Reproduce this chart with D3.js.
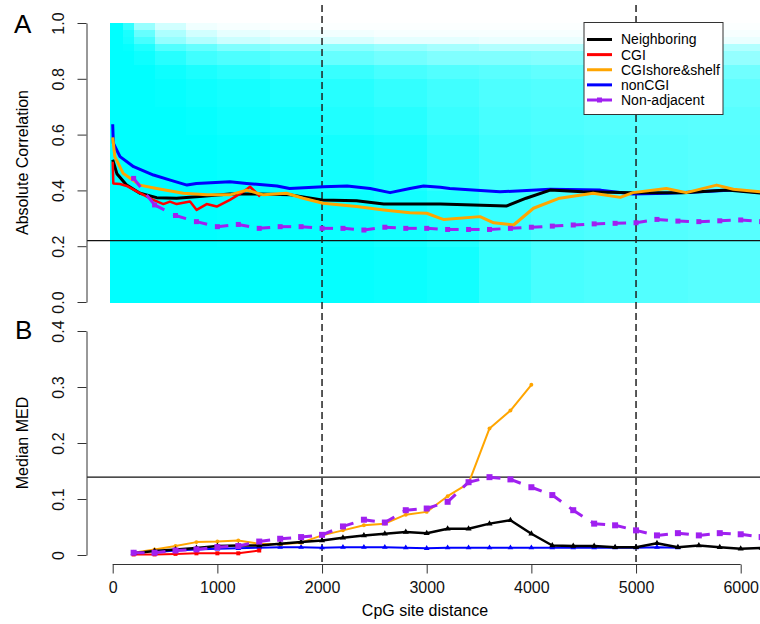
<!DOCTYPE html>
<html>
<head>
<meta charset="utf-8">
<script src="https://cdn.jsdelivr.net/npm/d3@7"></script>
<style>
  body { margin: 0; background: #fff; }
  svg { display: block; font-family: "Liberation Sans", Arial, sans-serif; }
</style>
</head>
<body>
<svg id="chart" width="760" height="624"></svg>
<script>
// ---- data ----

// scatter cloud of |correlation| vs distance, as coverage per cell
const cloudDist = [-25, 100, 200, 400, 700, 1000, 1500, 2000, 2500, 3000, 3500, 4000, 4500, 5000, 5500, 6300];
const cloudCorr = [0, 0.2, 0.4, 0.6, 0.7, 0.8, 0.85, 0.9, 0.925, 0.95, 0.975, 1.0];
const cloudCover = [
  [1, 1, 1, 1, 1, 1, 1, 1, 1, 1, 1],
  [1, 1, 1, 1, 1, 1, 1, 0.98, 0.92, 0.9, 0.8],
  [1, 1, 1, 1, 1, 1, 0.95, 0.88, 0.72, 0.6, 0.4],
  [1, 1, 1, 1, 0.98, 0.95, 0.85, 0.68, 0.42, 0.32, 0.18],
  [1, 1, 1, 0.98, 0.95, 0.9, 0.75, 0.6, 0.3, 0.18, 0.06],
  [1, 0.99, 0.98, 0.95, 0.92, 0.85, 0.7, 0.5, 0.2, 0.1, 0.03],
  [0.99, 0.98, 0.96, 0.93, 0.88, 0.8, 0.65, 0.45, 0.15, 0.06, 0.02],
  [0.98, 0.96, 0.93, 0.88, 0.85, 0.78, 0.6, 0.45, 0.15, 0.05, 0.01],
  [0.96, 0.93, 0.9, 0.85, 0.8, 0.72, 0.55, 0.4, 0.1, 0.03, 0.01],
  [0.93, 0.88, 0.82, 0.78, 0.75, 0.68, 0.5, 0.35, 0.1, 0.03, 0.01],
  [0.8, 0.78, 0.75, 0.72, 0.7, 0.65, 0.5, 0.3, 0.08, 0.03, 0.01],
  [0.72, 0.72, 0.72, 0.7, 0.68, 0.62, 0.48, 0.3, 0.08, 0.03, 0.01],
  [0.7, 0.7, 0.7, 0.68, 0.66, 0.6, 0.45, 0.3, 0.08, 0.03, 0.01],
  [0.68, 0.68, 0.68, 0.66, 0.64, 0.58, 0.45, 0.3, 0.08, 0.03, 0.01],
  [0.66, 0.66, 0.66, 0.65, 0.62, 0.56, 0.42, 0.3, 0.08, 0.03, 0.01],
];

// panel A: absolute correlation
const corrNeighboring = [[0, 0.51], [40, 0.46], [130, 0.42], [260, 0.39], [420, 0.374], [610, 0.372], [830, 0.378], [1120, 0.387], [1380, 0.387], [1700, 0.384], [2000, 0.366], [2330, 0.363], [2590, 0.351], [3130, 0.351], [3760, 0.344], [3950, 0.372], [4180, 0.401], [4490, 0.395], [4970, 0.392], [5450, 0.392], [5870, 0.401], [6200, 0.39]];
const corrCGI = [[0, 0.503], [6, 0.425], [70, 0.423], [134, 0.416], [261, 0.39], [388, 0.366], [484, 0.351], [547, 0.36], [611, 0.351], [739, 0.36], [802, 0.33], [898, 0.351], [994, 0.342], [1120, 0.366], [1248, 0.395], [1312, 0.413], [1376, 0.39], [1407, 0.378]];
const corrShore = [[0, 0.59], [20, 0.521], [100, 0.461], [260, 0.419], [420, 0.407], [675, 0.39], [900, 0.384], [1120, 0.384], [1280, 0.401], [1440, 0.384], [1660, 0.39], [1820, 0.372], [2010, 0.354], [2330, 0.342], [2590, 0.33], [2840, 0.32], [3000, 0.318], [3130, 0.3], [3160, 0.296], [3510, 0.306], [3640, 0.284], [3830, 0.276], [4020, 0.336], [4270, 0.372], [4590, 0.39], [4850, 0.375], [4970, 0.392], [5290, 0.407], [5480, 0.392], [5770, 0.419], [5930, 0.404], [6200, 0.395]];
const corrNonCGI = [[0, 0.637], [6, 0.569], [70, 0.521], [200, 0.485], [390, 0.455], [550, 0.437], [710, 0.419], [800, 0.425], [1120, 0.431], [1280, 0.425], [1570, 0.416], [1690, 0.407], [2010, 0.413], [2240, 0.416], [2460, 0.407], [2650, 0.392], [2840, 0.407], [2970, 0.416], [3130, 0.411], [3220, 0.407], [3700, 0.395], [4180, 0.404], [4660, 0.401], [4970, 0.387], [5300, 0.39], [5610, 0.395], [5930, 0.401], [6200, 0.392]];
const corrNonAdj = [[200, 0.443], [400, 0.348], [600, 0.31], [800, 0.288], [1000, 0.27], [1200, 0.278], [1400, 0.264], [1600, 0.27], [1800, 0.27], [2000, 0.264], [2200, 0.264], [2400, 0.258], [2600, 0.268], [2800, 0.264], [3000, 0.264], [3200, 0.26], [3400, 0.26], [3600, 0.26], [3800, 0.264], [4000, 0.268], [4200, 0.272], [4400, 0.276], [4600, 0.28], [4800, 0.282], [5000, 0.284], [5200, 0.296], [5400, 0.29], [5600, 0.288], [5800, 0.291], [6000, 0.294], [6200, 0.288]];

// panel B: median MED
const medNeighboring = [[200, 0.003], [400, 0.007], [600, 0.01], [800, 0.0125], [1000, 0.016], [1200, 0.017], [1400, 0.017], [1600, 0.02], [1800, 0.023], [2000, 0.026], [2200, 0.031], [2400, 0.035], [2600, 0.038], [2800, 0.041], [3000, 0.039], [3200, 0.047], [3400, 0.047], [3600, 0.056], [3800, 0.062], [4000, 0.038], [4200, 0.017], [4400, 0.016], [4600, 0.016], [4800, 0.014], [5000, 0.014], [5200, 0.021], [5400, 0.014], [5600, 0.017], [5800, 0.014], [6000, 0.011], [6200, 0.0125]];
const medCGI = [[200, 0.001], [400, 0.001], [600, 0.002], [800, 0.003], [1000, 0.003], [1200, 0.003], [1400, 0.008]];
const medShore = [[200, 0.004], [400, 0.01], [600, 0.016], [800, 0.023], [1000, 0.024], [1200, 0.026], [1400, 0.02], [1600, 0.019], [1800, 0.022], [2000, 0.035], [2200, 0.044], [2400, 0.053], [2600, 0.056], [2800, 0.072], [3000, 0.077], [3200, 0.105], [3400, 0.128], [3600, 0.226], [3800, 0.258], [4000, 0.304]];
const medNonCGI = [[400, 0.005], [600, 0.008], [800, 0.01], [1000, 0.011], [1200, 0.012], [1400, 0.013], [1600, 0.014], [1800, 0.014], [2000, 0.013], [2200, 0.014], [2400, 0.014], [2600, 0.014], [2800, 0.013], [3000, 0.012], [3200, 0.013], [3400, 0.013], [3600, 0.013], [3800, 0.013], [4000, 0.013], [4200, 0.013], [4400, 0.013], [4600, 0.013], [4800, 0.013], [5000, 0.013], [5200, 0.014], [5400, 0.013]];
const medNonAdj = [[200, 0.004], [400, 0.004], [600, 0.008], [800, 0.01], [1000, 0.014], [1200, 0.016], [1400, 0.024], [1600, 0.029], [1800, 0.032], [2000, 0.036], [2200, 0.051], [2400, 0.063], [2600, 0.058], [2800, 0.08], [3000, 0.083], [3200, 0.095], [3400, 0.13], [3600, 0.139], [3800, 0.135], [4000, 0.121], [4200, 0.107], [4400, 0.08], [4600, 0.056], [4800, 0.053], [5000, 0.044], [5200, 0.035], [5400, 0.039], [5600, 0.035], [5800, 0.039], [6000, 0.037], [6200, 0.032]];

// reference lines
const corrThreshold = 0.22;
const medThreshold = 0.139;
const markDistances = [2000, 5000];

// axis ticks
const distTicks = [0, 1000, 2000, 3000, 4000, 5000, 6000];
const corrTicks = [0, 0.2, 0.4, 0.6, 0.8, 1.0];
const medTicks = [0, 0.1, 0.2, 0.3, 0.4];

const legendLabels = ["Neighboring", "CGI", "CGIshore&shelf", "nonCGI", "Non-adjacent"];
const colors = ["#000000", "#ff0000", "#ffa500", "#0000ff", "#a020f0"];

// ---- scales ----
const svg = d3.select("#chart");
const x = d3.scaleLinear().domain([0, 6000]).range([112.7, 740.7]);
const yTop = d3.scaleLinear().domain([0, 1]).range([302, 23]);
const yBot = d3.scaleLinear().domain([0, 0.4]).range([555, 331]);
const cover = d3.interpolateRgb("#ffffff", "#00ffff");

// ---- cloud ----
const cells = [];
cloudCover.forEach((col, i) => {
  col.forEach((c, j) => {
    cells.push({ x0: cloudDist[i], x1: cloudDist[i + 1], y0: cloudCorr[j], y1: cloudCorr[j + 1], c });
  });
});
svg.append("g")
  .attr("shape-rendering", "crispEdges")
  .selectAll("rect")
  .data(cells)
  .join("rect")
  .attr("x", (d) => x(d.x0))
  .attr("y", (d) => yTop(d.y1))
  .attr("width", (d) => x(d.x1) - x(d.x0) + 0.5)
  .attr("height", (d) => yTop(d.y0) - yTop(d.y1) + 0.5)
  .attr("fill", (d) => cover(d.c));

// ---- reference lines ----
svg.append("line")
  .attr("x1", 87).attr("x2", 760)
  .attr("y1", yTop(corrThreshold)).attr("y2", yTop(corrThreshold))
  .attr("stroke", "#111").attr("stroke-width", 1.3);
svg.append("line")
  .attr("x1", 87).attr("x2", 760)
  .attr("y1", yBot(medThreshold)).attr("y2", yBot(medThreshold))
  .attr("stroke", "#111").attr("stroke-width", 1.3);
svg.selectAll(".vmark")
  .data(markDistances)
  .join("line")
  .attr("x1", (d) => x(d)).attr("x2", (d) => x(d))
  .attr("y1", 5).attr("y2", 564)
  .attr("stroke", "#222").attr("stroke-width", 1.5)
  .attr("stroke-dasharray", "7,4");

// ---- series ----
function drawLine(data, y, color, width) {
  svg.append("path")
    .datum(data)
    .attr("fill", "none")
    .attr("stroke", color)
    .attr("stroke-width", width)
    .attr("stroke-linejoin", "round")
    .attr("d", d3.line().x((d) => x(d[0])).y((d) => y(d[1])));
}

function drawDashed(data, y, color, width, size) {
  const g = svg.append("g");
  g.selectAll("line")
    .data(d3.pairs(data))
    .join("line")
    .attr("x1", (d) => x(d[0][0])).attr("y1", (d) => y(d[0][1]))
    .attr("x2", (d) => x(d[1][0])).attr("y2", (d) => y(d[1][1]))
    .attr("stroke", color)
    .attr("stroke-width", width)
    .attr("stroke-dasharray", "11,10");
  g.selectAll("rect")
    .data(data)
    .join("rect")
    .attr("x", (d) => x(d[0]) - size / 2)
    .attr("y", (d) => y(d[1]) - size / 2)
    .attr("width", size).attr("height", size)
    .attr("fill", color);
}

function drawMarkers(data, y, color, shape, size) {
  svg.append("g")
    .selectAll("path")
    .data(data)
    .join("path")
    .attr("transform", (d) => `translate(${x(d[0])},${y(d[1])})`)
    .attr("d", d3.symbol(shape, size))
    .attr("fill", color);
}

// panel A
drawLine(corrNonCGI, yTop, colors[3], 3);
drawLine(corrNeighboring, yTop, colors[0], 3);
drawLine(corrCGI, yTop, colors[1], 2.5);
drawLine(corrShore, yTop, colors[2], 3);
drawDashed(corrNonAdj, yTop, colors[4], 3, 5);

// panel B
drawLine(medNonCGI, yBot, colors[3], 2);
drawMarkers(medNonCGI, yBot, colors[3], d3.symbolTriangle, 14);
drawLine(medCGI, yBot, colors[1], 2);
drawMarkers(medCGI, yBot, colors[1], d3.symbolSquare, 16);
drawLine(medShore, yBot, colors[2], 2);
drawMarkers(medShore, yBot, colors[2], d3.symbolCircle, 12);
drawLine(medNeighboring, yBot, colors[0], 2.5);
drawMarkers(medNeighboring, yBot, colors[0], d3.symbolTriangle, 16);
drawDashed(medNonAdj, yBot, colors[4], 3, 6);

// ---- axes ----
function styleAxis(g) {
  g.selectAll("path, line").attr("stroke", "#333");
  g.selectAll("text").attr("fill", "#111").style("font-size", "16px");
}

const yAxisTop = svg.append("g")
  .attr("transform", "translate(86.5,0)")
  .call(d3.axisLeft(yTop).tickValues(corrTicks).tickSize(9).tickSizeOuter(0).tickFormat(d3.format(".1f")))
  .call(styleAxis);
const yAxisBot = svg.append("g")
  .attr("transform", "translate(86.5,0)")
  .call(d3.axisLeft(yBot).tickValues(medTicks).tickSize(9).tickSizeOuter(0).tickFormat((d) => (d === 0 ? "0" : d3.format(".1f")(d))))
  .call(styleAxis);
[yAxisTop, yAxisBot].forEach((g) => {
  g.selectAll(".tick text")
    .attr("text-anchor", "middle")
    .attr("transform", "translate(-22.5,0) rotate(-90)")
    .attr("x", 0).attr("dy", 0).attr("y", 0);
});

svg.append("g")
  .attr("transform", "translate(0,564.5)")
  .call(d3.axisBottom(x).tickValues(distTicks).tickSize(9).tickSizeOuter(0).tickFormat(d3.format("d")))
  .call(styleAxis)
  .call((g) => g.select(".domain").attr("d", `M${x(0)},0H${x(6000)}`))
  .call((g) => g.selectAll(".tick text").attr("y", 17).attr("dy", "0.71em"));

// axis titles and panel letters
svg.append("text")
  .attr("transform", `translate(27.5,${(yTop(0) + yTop(1)) / 2}) rotate(-90)`)
  .attr("text-anchor", "middle")
  .style("font-size", "16px")
  .text("Absolute Correlation");
svg.append("text")
  .attr("transform", `translate(27.5,${(yBot(0) + yBot(0.4)) / 2}) rotate(-90)`)
  .attr("text-anchor", "middle")
  .style("font-size", "16px")
  .text("Median MED");
svg.append("text")
  .attr("x", 425).attr("y", 616)
  .attr("text-anchor", "middle")
  .style("font-size", "16px")
  .text("CpG site distance");
svg.append("text").attr("x", 14).attr("y", 33).style("font-size", "26px").text("A");
svg.append("text").attr("x", 15).attr("y", 339).style("font-size", "26px").text("B");

// ---- legend ----
const legend = svg.append("g");
legend.append("rect")
  .attr("x", 584).attr("y", 22.5)
  .attr("width", 139).attr("height", 92)
  .attr("fill", "#fff").attr("stroke", "#333");
const rowY = d3.scalePoint().domain(legendLabels).range([39.5, 100]);
const rows = legend.selectAll(".row")
  .data(legendLabels)
  .join("g")
  .attr("transform", (d) => `translate(0,${rowY(d)})`);
rows.append("line")
  .attr("x1", 587).attr("x2", 612)
  .attr("stroke", (d, i) => colors[i])
  .attr("stroke-width", 3);
rows.filter((d, i) => i === 4)
  .append("rect")
  .attr("x", 597).attr("y", -2.5).attr("width", 5).attr("height", 5)
  .attr("fill", colors[4]);
rows.append("text")
  .attr("x", 621).attr("dy", "0.35em")
  .style("font-size", "14px")
  .text((d) => d);
</script>
</body>
</html>
